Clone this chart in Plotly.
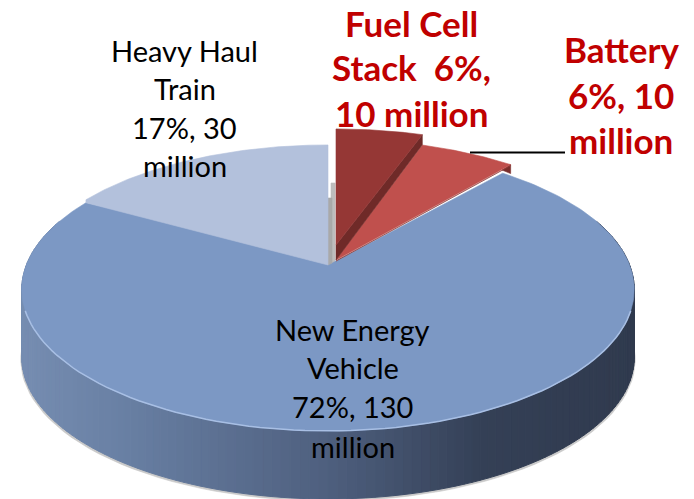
import math
import plotly.graph_objects as go

# ---- data ----
categories = ["Fuel Cell Stack", "Battery", "New Energy Vehicle", "Heavy Haul Train"]
values_million = [10, 10, 130, 30]
label_lines = [
    ["Fuel Cell", "Stack  6%,", "10 million"],
    ["Battery", "6%, 10", "million"],
    ["New Energy", "Vehicle", "72%, 130", "million"],
    ["Heavy Haul", "Train", "17%, 30", "million"],
]

# ---- 3D projection of the pie (pixel space) ----
W, H = 694, 499
CX, CY = 328, 261      # projected centre of the disc
A, B, K = 300, 135.8, 0.201
DEPTH = 68

def project(deg, dx=0, dy=0, cx=CX):
    t = math.radians(deg)
    u, v = math.sin(t), math.cos(t)
    w = 1 + K * v
    return cx + dx + A * u / w, CY + dy - B * v / w

def arc(a0, a1, dx=0, dy=0, n=80):
    pts = [project(a0 + (a1 - a0) * i / n, dx, dy) for i in range(n + 1)]
    return [p[0] for p in pts], [p[1] for p in pts]

def poly(fig, xs, ys, color, line=None, lw=0.6):
    fig.add_trace(go.Scatter(
        x=list(xs) + [xs[0]], y=list(ys) + [ys[0]], mode="lines", fill="toself",
        fillcolor=color, line=dict(color=line or color, width=lw),
        hoverinfo="skip", showlegend=False))

def mix(c0, c1, f):
    return "rgb(%d,%d,%d)" % tuple(round(a + (b - a) * f) for a, b in zip(c0, c1))

# angle of each slice from the values
total = sum(values_million)
bounds = [0]
for val in values_million:
    bounds.append(bounds[-1] + 360 * val / total)

fig = go.Figure()

# soft shadow then gradient wall of the disc
lx, ly = arc(80, 280)
poly(fig, [x + 1 if x > CX else x - 1 for x in lx] + [x for x in lx[::-1]],
     [y + DEPTH + 2 for y in ly] + list(ly[::-1]), "#c9c9c9")

stops = [(0.0, (118, 141, 177)), (0.16, (105, 128, 164)), (0.5, (78, 95, 126)),
         (0.75, (52, 64, 86)), (1.0, (48, 58, 78))]
def wall(f):
    for (p0, c0), (p1, c1) in zip(stops, stops[1:]):
        if f <= p1:
            return mix(c0, c1, (f - p0) / (p1 - p0))
    return mix(stops[-1][1], stops[-1][1], 0)

n_bands = 150
for i in range(n_bands):
    a0 = 90 - 18 + (180 + 36) * i / n_bands
    a1 = 90 - 18 + (180 + 36) * (i + 1) / n_bands
    x0, y0 = project(a0)
    x1, y1 = project(a1)
    fx = 1 - ((x0 + x1) / 2 - 22) / 613
    poly(fig, [x0, x1, x1, x0], [y0, y1, y1 + DEPTH, y0 + DEPTH], wall(1 - fx), lw=1)

# blue slice
b_start, b_end = bounds[2] + 2, bounds[3] - 2
rx, ry = arc(b_start, b_end, n=200)
poly(fig, [336] + rx, [261] + ry, "#7c98c4")
hx, hy = arc(110, 250)
fig.add_trace(go.Scatter(x=hx, y=hy, mode="lines", line=dict(color="#a8bfe4", width=1.5),
                         hoverinfo="skip", showlegend=False))

# grey cut faces behind the pale slice
poly(fig, [331, 335, 335, 331], [183, 183, 261, 263], "#bdbdbd")
poly(fig, [328, 332, 332, 328], [198, 198, 263, 265], "#a9a9a9")

# pale blue slice (starts on the blue rim so no gap opens between them)
rx, ry = arc(bounds[3] - 2, bounds[4], dy=-3)
join_x, join_y = project(bounds[3] - 2)
poly(fig, [328, join_x] + rx, [265, join_y] + ry, "#b3c1dc")

# battery slice with its thin wall
rx, ry = arc(bounds[1], bounds[2] + 2, dx=8, dy=-8.6)
poly(fig, [rx[-1], rx[-1], 502], [ry[-1], ry[-1] + 9, 170], "#7a2e2c")
poly(fig, [336, rx[-1], 502], [261, ry[-1] + 1, 170], "#8f3a38")
poly(fig, [336] + rx, [260] + ry, "#c0504d")

# fuel cell slice with its thin wall
rx, ry = arc(bounds[0], bounds[1], dx=8, dy=-19)
poly(fig, [rx[-1], rx[-1], 336, 336], [ry[-1], ry[-1] + 10, 260, 245], "#6f2a28")
poly(fig, [336] + rx, [245] + ry, "#953735")

# leader line of the battery label
fig.add_trace(go.Scatter(x=[470, 565], y=[152.5, 152.5], mode="lines",
                         line=dict(color="black", width=2), hoverinfo="skip", showlegend=False))

# labels
anchors = [(411, [23, 67, 113]), (621, [49, 95, 140]),
           (352.5, [329, 367, 406, 446]), (184.5, [50, 88, 127, 165])]
styles = [("#c00000", 35, True), ("#c00000", 35, True), ("black", 29, False), ("black", 29, False)]
ann = []
for lines, (ax, ays), (col, size, bold) in zip(label_lines, anchors, styles):
    for txt, ay in zip(lines, ays):
        ann.append(dict(x=ax, y=ay, xref="x", yref="y", showarrow=False,
                        text="<b>%s</b>" % txt if bold else txt,
                        font=dict(family="Lato", size=size, color=col)))

fig.update_layout(
    width=W, height=H, margin=dict(l=0, r=0, t=0, b=0),
    paper_bgcolor="white", plot_bgcolor="white", showlegend=False, annotations=ann,
    xaxis=dict(range=[0, W], visible=False, fixedrange=True),
    yaxis=dict(range=[H, 0], visible=False, fixedrange=True),
)
fig.write_html("out.html", post_script="document.body.style.margin='0';",
               config={"displayModeBar": False})
